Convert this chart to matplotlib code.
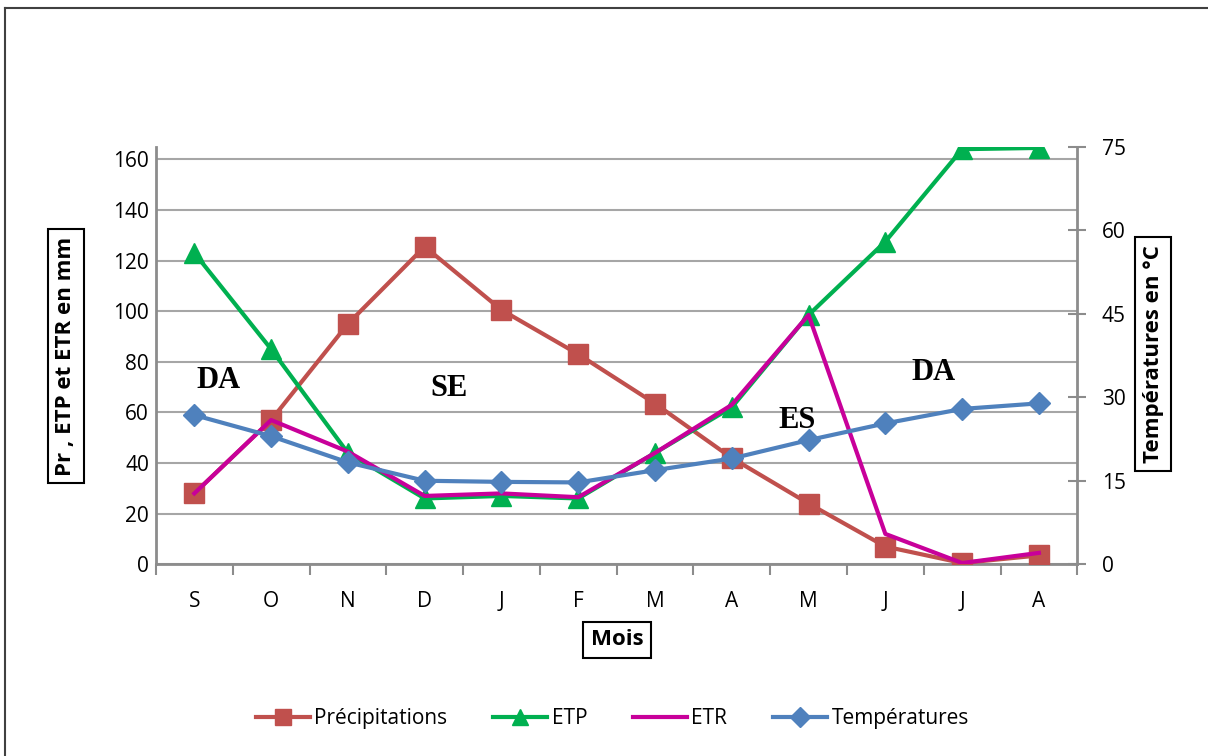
import matplotlib.pyplot as plt
from matplotlib.lines import Line2D

plt.rcParams['font.family'] = ['Open Sans', 'DejaVu Sans']

mois = ["S", "O", "N", "D", "J", "F", "M", "A", "M", "J", "J", "A"]
precipitations = [28, 57, 95, 125.5, 100.5, 83, 63.5, 42, 24, 7, 0.5, 3.5]
etp = [123, 85, 44, 26, 27, 26, 44, 62, 98.5, 127.5, 164, 164.5]
etr = [28, 57, 44.5, 27, 28, 26.5, 44, 63, 98.5, 12, 0.5, 4.5]
temperatures = [26.8, 23.0, 18.3, 15.0, 14.8, 14.7, 16.9, 19.0, 22.3, 25.3, 27.9, 28.9]

red = "#C0504D"
green = "#00B050"
magenta = "#C8009A"
blue = "#4F81BD"
axis_grey = "#8C8C8C"

fig = plt.figure(figsize=(12.08, 7.56), dpi=100)
ax = fig.add_axes([0.1291, 0.2536, 0.7627, 0.5524])
ax2 = ax.twinx()

x = list(range(len(mois)))

ax.plot(x, precipitations, color=red, lw=3, marker="s", ms=14, mec=red, label="Précipitations", zorder=3)
ax.plot(x, etp, color=green, lw=3, marker="^", ms=14, mec=green, label="ETP", zorder=3)
ax.plot(x, etr, color=magenta, lw=3, label="ETR", zorder=4)
ax2.plot(x, temperatures, color=blue, lw=3, marker="D", ms=11, mec=blue, label="Températures", zorder=3)

# left axis: mm
ax.set_xlim(-0.5, len(mois) - 0.5)
ax.set_ylim(0, 165)
ax.set_yticks(range(0, 161, 20))
ax.yaxis.grid(True, color="#A6A6A6", lw=1.5)
ax.set_axisbelow(True)
ax.tick_params(axis="y", length=0, pad=5, labelsize=15)

# month labels centred in bands, ticks on band edges
ax.set_xticks(x)
ax.set_xticklabels(mois)
ax.set_xticks([i - 0.5 for i in range(len(mois) + 1)], minor=True)
ax.tick_params(axis="x", which="major", length=0, pad=19, labelsize=15)
ax.tick_params(axis="x", which="minor", length=8, width=1.5, color=axis_grey, direction="out")

# right axis: temperature
ax2.set_ylim(0, 75)
ax2.set_yticks(range(0, 76, 15))
ax2.tick_params(axis="y", direction="inout", length=13, width=1.5, color=axis_grey, pad=11, labelsize=15)

for a in (ax, ax2):
    for side in ("top", "left", "right", "bottom"):
        a.spines[side].set_visible(False)
for a, side in ((ax, "left"), (ax, "bottom"), (ax2, "right")):
    a.spines[side].set_visible(True)
    a.spines[side].set_color(axis_grey)
    a.spines[side].set_linewidth(2)

# period annotations
period_style = dict(family="Liberation Serif", fontweight="bold", fontsize=22, ha="center", va="center")
ax.text(0.32, 72.8, "DA", **period_style)
ax.text(3.32, 69.3, "SE", **period_style)
ax.text(7.85, 57, "ES", **period_style)
ax.text(9.63, 75.6, "DA", **period_style)

# boxed axis titles
box = dict(boxstyle="square,pad=0.35", fc="white", ec="black", lw=1.5)
fig.text(0.0546, 0.529, "Pr , ETP et ETR en mm", rotation=90, ha="center", va="center",
         fontsize=16, fontweight="bold", bbox=box)
fig.text(0.9545, 0.532, "Températures en °C", rotation=90, ha="center", va="center",
         fontsize=16, fontweight="bold", bbox=box)
fig.text(0.5108, 0.1535, "Mois", ha="center", va="center",
         fontsize=16, fontweight="bold", bbox=box)

# legend along the bottom
handles = [
    Line2D([], [], color=red, lw=3, marker="s", ms=12, mec=red),
    Line2D([], [], color=green, lw=3, marker="^", ms=12, mec=green),
    Line2D([], [], color=magenta, lw=3),
    Line2D([], [], color=blue, lw=3, marker="D", ms=10, mec=blue),
]
fig.legend(handles, ["Précipitations", "ETP", "ETR", "Températures"], loc="center",
           bbox_to_anchor=(0.507, 0.049), ncol=4, frameon=False, fontsize=15,
           handlelength=2.6, columnspacing=2.2, handletextpad=0.2)

# chart frame
fig.add_artist(Line2D([5 / 1208, 5 / 1208], [0, 1 - 8 / 756], color="#404040", lw=1.5, transform=fig.transFigure))
fig.add_artist(Line2D([5 / 1208, 1], [1 - 8 / 756, 1 - 8 / 756], color="#404040", lw=1.5, transform=fig.transFigure))

fig.savefig("out.png", dpi=100)
